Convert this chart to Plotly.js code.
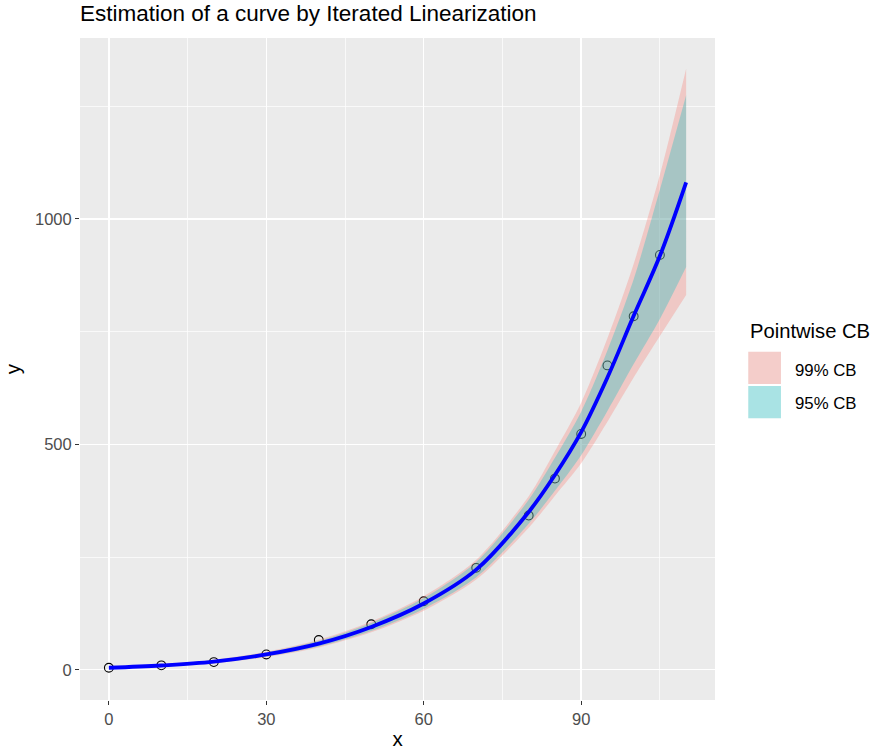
<!DOCTYPE html>
<html>
<head>
<meta charset="utf-8">
<script src="https://cdn.plot.ly/plotly-3.0.1.min.js"></script>
<style>
html,body{margin:0;padding:0;background:#fff;}
#chart{width:877px;height:753px;}
</style>
</head>
<body>
<div id="chart"></div>
<script>
// Observed data points
const obsX = [0, 10, 20, 30, 40, 50, 60, 70, 80, 85, 90, 95, 100, 105];
const obsY = [4.5, 9.8, 17, 34, 66, 101, 152, 226, 342, 424, 523, 675, 784, 920];

// Fitted curve and pointwise confidence bands
const gridX   = [0, 10, 20, 30, 40, 50, 60, 70, 80, 85, 90, 95, 100, 105, 110];
const fitY    = [4.5, 9.5, 18, 34, 58, 95, 147, 222, 350, 432, 527, 648, 785, 918, 1081];
const lower99 = [2.5, 6.9, 14, 28, 49.5, 83, 131, 200, 315, 386, 458, 550, 648, 740, 831];
const lower95 = [3, 7.5, 15, 29.5, 51.5, 86, 135, 205, 324, 397, 476, 574, 678, 778, 893];
const upper95 = [6, 11.5, 21, 38.5, 64.5, 104, 159, 239, 377, 470, 572, 708, 866, 1065, 1274];
const upper99 = [6.5, 12.1, 22, 40, 66.5, 107, 163, 244, 385, 485, 592, 735, 900, 1098, 1333];

const bandNames = ["99% CB", "95% CB"];
const xTicks = [0, 30, 60, 90];
const yTicks = [0, 500, 1000];

const pinkFill = "rgba(248,118,109,0.3)";
const tealFill = "rgba(0,191,196,0.3)";
const FAM = "Liberation Sans, Arial, sans-serif";

const noLine = {width: 0, color: "rgba(0,0,0,0)", shape: "spline", smoothing: 0.8};

const traces = [
  {
    x: obsX, y: obsY, type: "scatter", mode: "markers",
    marker: {symbol: "circle-open", size: 8.8, color: "#000000", line: {width: 1.1, color: "#000000"}},
    showlegend: false, hoverinfo: "x+y"
  },
  {x: gridX, y: lower99, type: "scatter", mode: "lines", line: noLine, showlegend: false, hoverinfo: "skip"},
  {x: gridX, y: upper99, type: "scatter", mode: "lines", line: noLine, fill: "tonexty", fillcolor: pinkFill,
   name: bandNames[0], showlegend: false, hoverinfo: "skip"},
  {x: gridX, y: lower95, type: "scatter", mode: "lines", line: noLine, showlegend: false, hoverinfo: "skip"},
  {x: gridX, y: upper95, type: "scatter", mode: "lines", line: noLine, fill: "tonexty", fillcolor: tealFill,
   name: bandNames[1], showlegend: false, hoverinfo: "skip"},
  {
    x: gridX, y: fitY, type: "scatter", mode: "lines",
    line: {color: "#0000FF", width: 3.8, shape: "spline", smoothing: 1},
    showlegend: false, hoverinfo: "x+y"
  }
];

const tickFont = {family: FAM, size: 16.5, color: "#4D4D4D"};
const titleFont = {family: FAM, size: 20.5, color: "#000000"};

// legend (drawn manually like ggplot)
const kx0 = 1.0524, kx1 = 1.1039;
const k99 = [0.4773, 0.5261];
const k95 = [0.4255, 0.4743];

const shapes = [
  {type: "rect", xref: "paper", yref: "paper", x0: kx0, x1: kx1, y0: k99[0], y1: k99[1], fillcolor: "#F2F2F2", line: {width: 0}},
  {type: "rect", xref: "paper", yref: "paper", x0: kx0, x1: kx1, y0: k99[0], y1: k99[1], fillcolor: pinkFill, line: {width: 0}},
  {type: "rect", xref: "paper", yref: "paper", x0: kx0, x1: kx1, y0: k95[0], y1: k95[1], fillcolor: "#F2F2F2", line: {width: 0}},
  {type: "rect", xref: "paper", yref: "paper", x0: kx0, x1: kx1, y0: k95[0], y1: k95[1], fillcolor: tealFill, line: {width: 0}}
];

const annotations = [
  {text: "Pointwise CB", xref: "paper", yref: "paper", x: 1.0524, y: 0.5574, xanchor: "left", yanchor: "middle",
   showarrow: false, font: {family: FAM, size: 20.2, color: "#000000"}},
  {text: bandNames[0], xref: "paper", yref: "paper", x: 1.1224, y: 0.4974, xanchor: "left", yanchor: "middle",
   showarrow: false, font: {family: FAM, size: 16.8, color: "#000000"}},
  {text: bandNames[1], xref: "paper", yref: "paper", x: 1.1224, y: 0.4486, xanchor: "left", yanchor: "middle",
   showarrow: false, font: {family: FAM, size: 16.8, color: "#000000"}}
];

const layout = {
  width: 877, height: 753,
  paper_bgcolor: "#FFFFFF",
  plot_bgcolor: "#EBEBEB",
  margin: {l: 80, r: 162, t: 38, b: 53, pad: 0},
  title: {
    text: "Estimation of a curve by Iterated Linearization",
    font: {family: FAM, size: 22.5, color: "#000000"},
    x: 0, xref: "paper", xanchor: "left",
    y: 1 - 13/753, yref: "container", yanchor: "middle"
  },
  xaxis: {
    range: [-5.5, 115.5], tickvals: xTicks, ticktext: xTicks.map(String),
    showgrid: true, gridcolor: "#FFFFFF", gridwidth: 1.4,
    minor: {dtick: 15, tick0: 15, showgrid: true, gridcolor: "#FFFFFF", gridwidth: 0.7, ticks: ""},
    zeroline: false, showline: false,
    ticks: "outside", ticklen: 4, tickwidth: 1.1, tickcolor: "#333333",
    tickfont: tickFont,
    title: {text: "x", font: titleFont, standoff: 4},
    automargin: false
  },
  yaxis: {
    range: [-67, 1401], tickvals: yTicks, ticktext: yTicks.map(String),
    showgrid: true, gridcolor: "#FFFFFF", gridwidth: 1.4,
    minor: {dtick: 250, tick0: 250, showgrid: true, gridcolor: "#FFFFFF", gridwidth: 0.7, ticks: ""},
    zeroline: false, showline: false,
    ticks: "outside", ticklen: 4, tickwidth: 1.1, tickcolor: "#333333",
    tickfont: tickFont,
    title: {text: "y", font: titleFont, standoff: 8},
    automargin: false
  },
  shapes: shapes,
  annotations: annotations,
  showlegend: false
};

Plotly.newPlot("chart", traces, layout, {displayModeBar: false, staticPlot: true});
</script>
</body>
</html>
